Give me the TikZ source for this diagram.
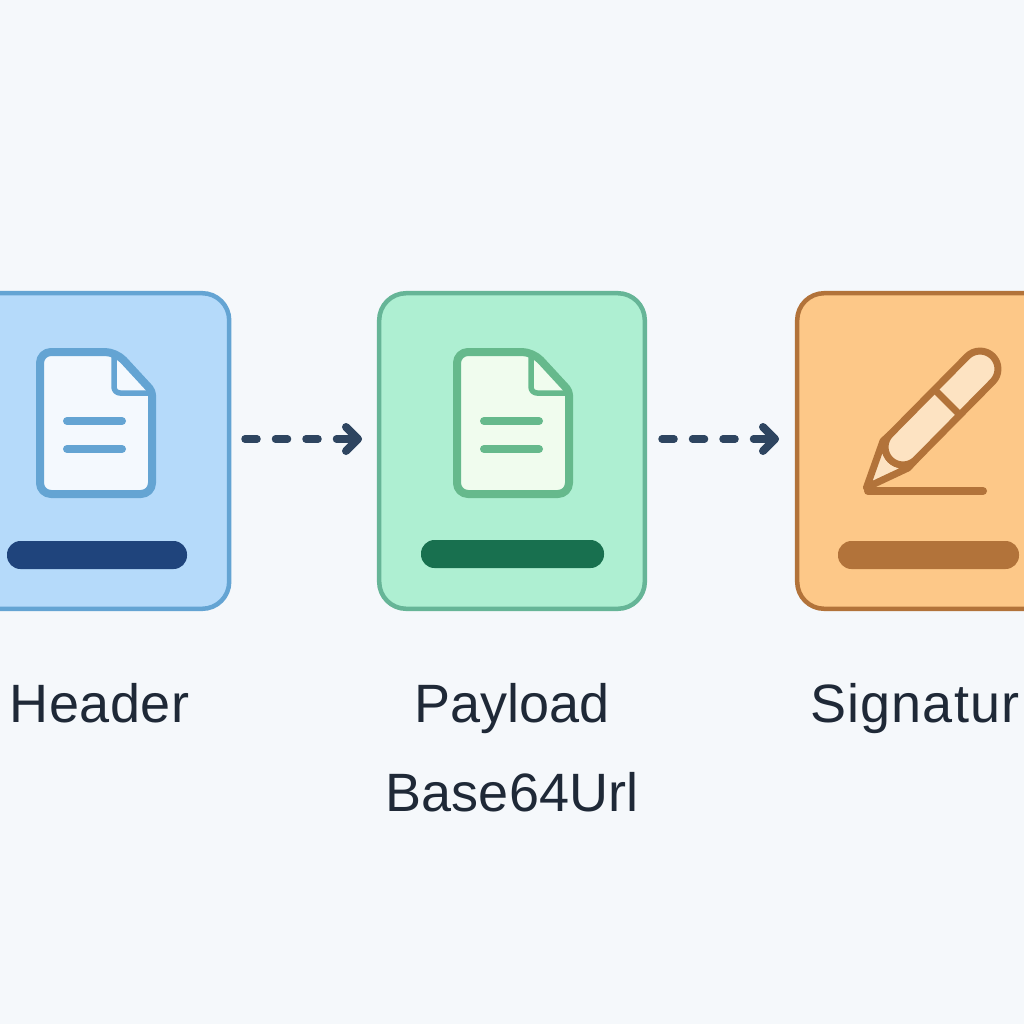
\documentclass[tikz,border=0pt]{standalone}
\usepackage{fontspec}
\setmainfont{Liberation Sans}
\definecolor{bgc}{HTML}{F5F8FB}
\definecolor{bluefill}{HTML}{B5DAFA}
\definecolor{blueline}{HTML}{64A4D3}
\definecolor{bluedark}{HTML}{1F447C}
\definecolor{bluepaper}{HTML}{F4F9FE}
\definecolor{greenfill}{HTML}{AEEFD2}
\definecolor{greenline}{HTML}{66B98C}
\definecolor{greenedge}{HTML}{66B597}
\definecolor{greendark}{HTML}{18704F}
\definecolor{greenpaper}{HTML}{F0FCEE}
\definecolor{orangefill}{HTML}{FDC888}
\definecolor{orangeline}{HTML}{B2733A}
\definecolor{orangepaper}{HTML}{FDE3C2}
\definecolor{arrowc}{HTML}{2E4560}
\definecolor{textc}{HTML}{1F2937}
\tikzset{
  cardbox/.style={draw,rounded corners=27pt,line width=4.5pt,minimum width=265.6pt,minimum height=315.6pt,inner sep=0pt},
  barpill/.style={rounded corners=13.5pt,inner sep=0pt,minimum height=28pt},
  labeltext/.style={text=textc,font=\fontsize{54}{54}\selectfont,anchor=base,inner sep=0pt},
  flowdash/.style={arrowc,line width=7.5pt,line cap=round},
}
% doc icon at horizontal shift #1, colours #2 line and #3 paper
\newcommand{\docicon}[3]{
  \begin{scope}[xshift=#1pt,line join=round]
    \draw[#2,fill=#3,line width=8pt,rounded corners=11pt]
      (40,352) -- (116,352) [rounded corners=4pt] -- (152,391) [rounded corners=11pt] -- (152,494) -- (40,494) -- cycle;
    \draw[#2,line width=5.5pt,rounded corners=6pt] (114,354) -- (114,393) -- (151,393);
    \draw[#2,line width=8pt,line cap=round] (67,421) -- (122,421);
    \draw[#2,line width=8pt,line cap=round] (67,449) -- (122,449);
  \end{scope}
}
\begin{document}
\begin{tikzpicture}[x=1pt,y=-1pt]
\useasboundingbox (0,0) rectangle (1024,1024);
\clip (0,0) rectangle (1024,1024);
\fill[bgc] (0,0) rectangle (1024,1024);
% cards
\node[cardbox,blueline,fill=bluefill] (c1) at (96.4,451) {};
\node[cardbox,greenedge,fill=greenfill] (c2) at (512,451) {};
\node[cardbox,orangeline,fill=orangefill] (c3) at (930,451) {};
% icons
\docicon{0}{blueline}{bluepaper}
\docicon{417}{greenline}{greenpaper}
% pen
\begin{scope}[orangeline,line width=7pt,line join=round]
  \draw[fill=orangepaper]
    (890.3,434.3) -- (883,441) -- (866.5,487.5) -- (908,468) -- (915.7,459.7)
    .. controls (908.7,466.7) and (897.3,466.7) .. (890.3,459.7)
    .. controls (883.3,452.7) and (883.3,441.3) .. (890.3,434.3) -- cycle;
  \draw[fill=orangepaper]
    (890.3,434.3) -- (967.3,356.3)
    .. controls (974.3,349.3) and (985.7,349.3) .. (992.7,356.3)
    .. controls (999.7,363.3) and (999.7,374.7) .. (992.7,381.7)
    -- (915.7,459.7)
    .. controls (908.7,466.7) and (897.3,466.7) .. (890.3,459.7)
    .. controls (883.3,452.7) and (883.3,441.3) .. (890.3,434.3) -- cycle;
  \draw (934,389) -- (960,415);
  \draw[line width=8pt,line cap=round] (868,491) -- (983,491);
\end{scope}
% bars
\node[barpill,fill=bluedark,minimum width=180pt] (b1) at (97,555) {};
\node[barpill,fill=greendark,minimum width=183pt] (b2) at (512.5,554) {};
\node[barpill,fill=orangeline,minimum width=181pt] (b3) at (928.5,555) {};
% connectors
\coordinate (s1) at (245,439); \coordinate (m1) at (320,439);
\coordinate (n1) at (336.5,439); \coordinate (e1) at (358,439);
\coordinate (u1) at (346,427); \coordinate (v1) at (346,451);
\coordinate (s2) at (662,439); \coordinate (m2) at (737,439);
\coordinate (n2) at (753.5,439); \coordinate (e2) at (775,439);
\coordinate (u2) at (763,427); \coordinate (v2) at (763,451);
\foreach \i in {1,2}{
  \draw[flowdash,dash pattern=on 12pt off 18.5pt] (s\i) -- (m\i);
  \draw[flowdash] (n\i) -- (e\i);
  \draw[flowdash,line width=8pt,line join=round] (u\i) -- (e\i) -- (v\i);
}
% labels
\node[labeltext] (t1) at (99.5,722) {\addfontfeature{LetterSpace=1}Header};
\node[labeltext] (t2) at (512,722) {Payload};
\node[labeltext] (t3) at (512,811) {Base64Url};
\node[labeltext,anchor=base west] (t4) at (810,722) {\addfontfeature{LetterSpace=2.2}Signatur};
\end{tikzpicture}
\end{document}
